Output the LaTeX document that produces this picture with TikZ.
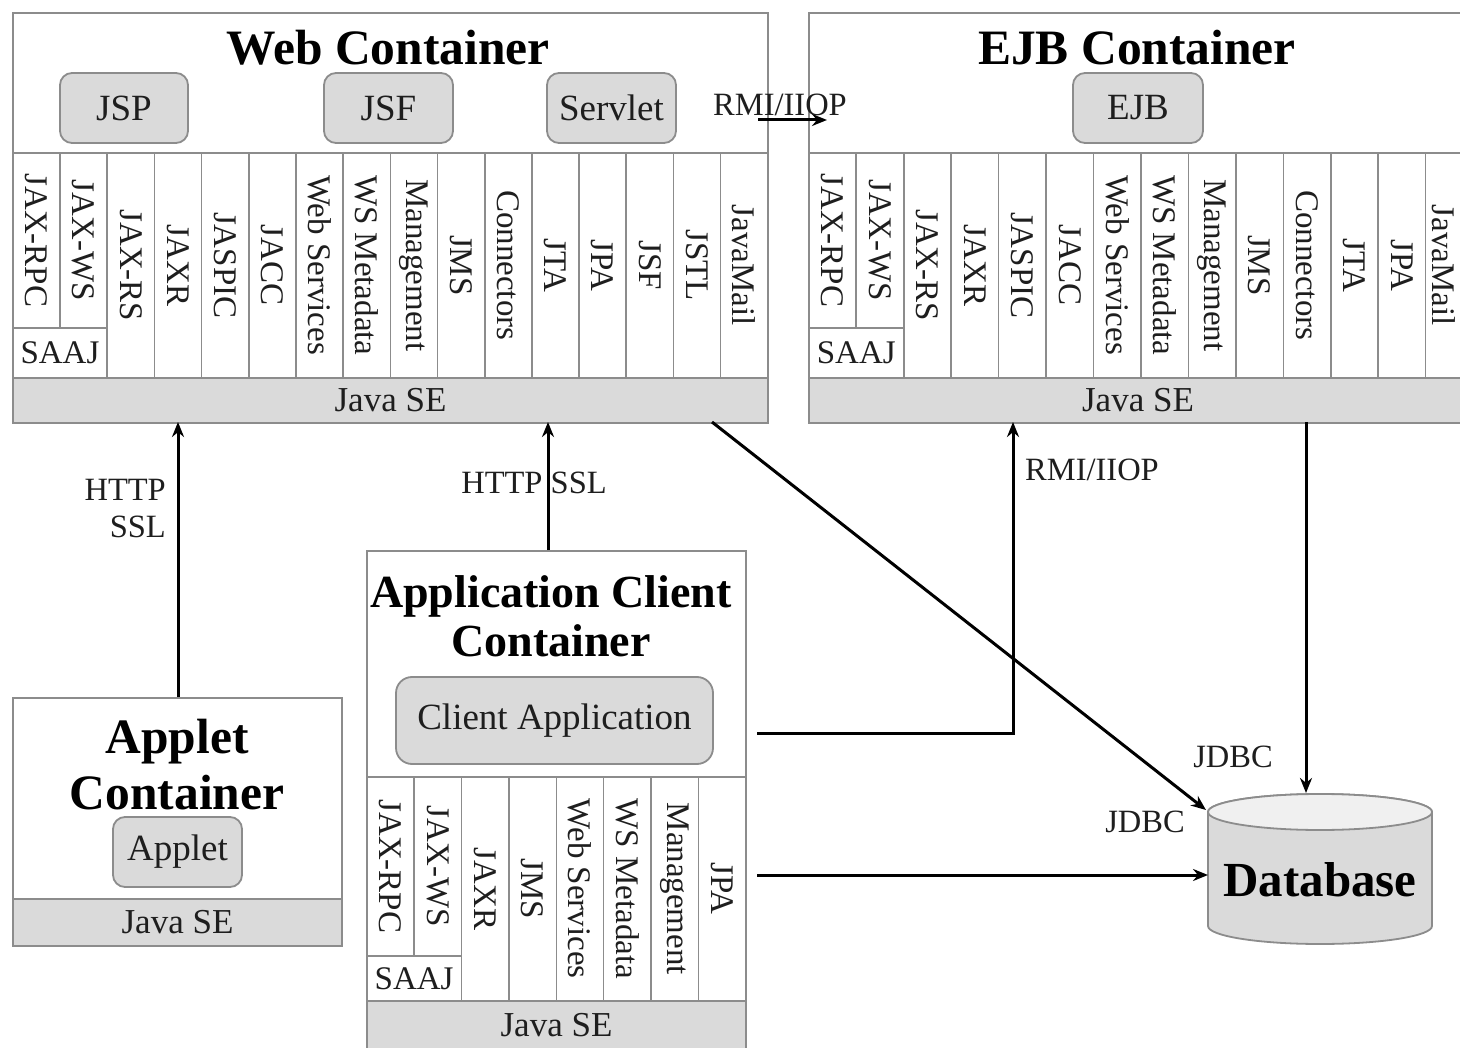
\documentclass[tikz,border=0pt]{standalone}
\usepackage{fontspec}
\setmainfont{Liberation Serif}
\usetikzlibrary{arrows.meta}
\definecolor{linegray}{HTML}{8C8C8C}
\definecolor{boxgray}{HTML}{DADADA}
\definecolor{txt}{HTML}{1E1E1E}
\tikzset{
  cont/.style={draw=linegray, line width=2pt, fill=white, inner sep=0, anchor=north west},
  sebar/.style={draw=linegray, line width=2pt, fill=boxgray, inner sep=0, anchor=north west},
  colcell/.style={draw=linegray, line width=1.6pt, inner sep=0, anchor=north west},
  collab/.style={rotate=-90, inner sep=0, text=txt, font=\fontsize{33}{36}\selectfont},
  saajlab/.style={inner sep=0, text=txt, font=\fontsize{33}{36}\selectfont},
  selab/.style={inner sep=0, text=txt, font=\fontsize{35}{38}\selectfont},
  comp/.style={draw=linegray, line width=1.8pt, fill=boxgray, rounded corners=12pt, inner sep=0, text=txt, font=\fontsize{37}{40}\selectfont},
  ttl/.style={inner sep=0, font=\fontsize{49.5}{56}\selectfont\bfseries, align=center},
  conn/.style={line width=3pt, black, -{Stealth[length=15pt,width=12pt]}},
  clab/.style={inner sep=0, text=txt, font=\fontsize{32.5}{37}\selectfont},
}
\newcommand\colrow[7]{%
  \foreach [count=\i] \lab in {#7} {
    \pgfmathsetmacro\xa{#2+(\i-1)*#3}
    \ifnum\i<3 \def\yb{#6}\else\def\yb{#5}\fi
    \pgfmathsetmacro\hh{\yb-#4}
    \node[colcell, minimum width=#3, minimum height=\hh] (#1\i) at (\xa,#4) {};
    \node[collab] (#1l\i) at (#1\i.center) {\lab};
  }
  \node[colcell, minimum width=2*#3, minimum height=#5-#6] (#1saaj) at (#2,#6) {};
  \node[saajlab] (#1saajl) at (#1saaj.center) {SAAJ};
}
\begin{document}
\begin{tikzpicture}[x=1pt, y=-1pt]
\useasboundingbox (0,0) rectangle (1460,1048);
\clip (0,0) rectangle (1460,1048);
\fill[white] (0,0) rectangle (1460,1048);

% ---------- Web Container ----------
\node[cont, minimum width=755, minimum height=410] (web) at (12,12) {};
\colrow{w}{12}{47.19}{152}{377}{327}{JAX-RPC,JAX-WS,JAX-RS,JAXR,JASPIC,JACC,Web Services,WS Metadata,Management,JMS,Connectors,JTA,JPA,JSF,JSTL,JavaMail}
\node[sebar, minimum width=755, minimum height=45] (webse) at (12,377) {};
\node[selab] (websel) at (webse.center) {Java SE};
\node[ttl] (webt) at (388,48) {Web Container};
\node[comp, minimum width=128, minimum height=70] (jsp) at (124,108) {JSP};
\node[comp, minimum width=129, minimum height=70] (jsf) at (388.5,108) {JSF};
\node[comp, minimum width=129, minimum height=70] (servlet) at (611.5,108) {Servlet};

% ---------- EJB Container (runs off the right edge) ----------
\node[cont, minimum width=654, minimum height=410] (ejb) at (808,12) {};
\colrow{e}{808}{47.45}{152}{377}{327}{JAX-RPC,JAX-WS,JAX-RS,JAXR,JASPIC,JACC,Web Services,WS Metadata,Management,JMS,Connectors,JTA,JPA}
\node[colcell, minimum width=37, minimum height=225] (e14) at (1424.85,152) {};
\node[collab] (el14) at (e14.center) {JavaMail};
\node[sebar, minimum width=654, minimum height=45] (ejbse) at (808,377) {};
\node[selab] (ejbsel) at (1138,400) {Java SE};
\node[ttl] (ejbt) at (1137,48) {EJB Container};
\node[comp, minimum width=130, minimum height=70] (ejbbox) at (1138,108) {EJB};

% ---------- Applet Container ----------
\node[cont, minimum width=329, minimum height=248] (applet) at (12,697) {};
\node[sebar, minimum width=329, minimum height=47] (appletse) at (12,898) {};
\node[selab] (appletsel) at (appletse.center) {Java SE};
\node[ttl] (appt) at (177,765) {Applet\\Container};
\node[comp, minimum width=129, minimum height=70] (appletbox) at (177.5,852) {Applet};

% ---------- Application Client Container ----------
\node[cont, minimum width=379, minimum height=498] (acc) at (366,550) {};
\colrow{c}{366}{47.375}{776}{1000}{955}{JAX-RPC,JAX-WS,JAXR,JMS,Web Services,WS Metadata,Management,JPA}
\node[sebar, minimum width=379, minimum height=48] (accse) at (366,1000) {};
\node[selab] (accsel) at (accse.center) {Java SE};
\node[ttl, font=\fontsize{46}{49}\selectfont\bfseries] (acct) at (551,616) {Application Client\\Container};
\node[comp, minimum width=317, minimum height=87, rounded corners=16pt] (capp) at (554.5,720.5) {Client Application};

% ---------- Database ----------
\path[draw=linegray, line width=1.8pt, fill=boxgray]
  (1208,812) -- (1208,926) arc(180:0:112 and 18) -- (1432,812) arc(0:-180:112 and 18) -- cycle;
\draw[draw=linegray, line width=1.8pt, fill=white!60!boxgray] (1320,812) ellipse (112 and 18);
\node[inner sep=0, font=\fontsize{49}{56}\selectfont\bfseries] (db) at (1320,880) {Database};

% ---------- Connector end points ----------
\coordinate (rmiA) at (758,120);
\coordinate (rmiB) at (827,120);
\coordinate (httpA) at (178,697);
\coordinate (httpB) at (178,422);
\coordinate (http2A) at (548,550);
\coordinate (http2B) at (548,422);
\coordinate (webdb) at (712,422);
\coordinate (dbtl) at (1206,810);
\coordinate (cappout) at (757,733);
\coordinate (ejbin) at (1013,422);
\coordinate (ejbout) at (1306,422);
\coordinate (dbtop) at (1306,793);
\coordinate (accout) at (757,875);
\coordinate (dbleft) at (1208,875);

% ---------- Connectors ----------
\node[clab] (lrmi1) at (780,105) {RMI/IIOP};
\draw[conn] (rmiA) -- (rmiB);
\draw[conn] (httpA) -- (httpB);
\draw[conn] (http2A) -- (http2B);
\draw[conn] (webdb) -- (dbtl);
\draw[conn] (cappout) -| (ejbin);
\draw[conn] (ejbout) -- (dbtop);
\draw[conn] (accout) -- (dbleft);

% ---------- Connector labels ----------
\node[clab, align=right, anchor=east] (lhttp) at (166,509) {HTTP\\SSL};
\node[clab] (lhttp2) at (534,483) {HTTP SSL};
\node[clab] (lrmi2) at (1092,470) {RMI/IIOP};
\node[clab] (ljdbc1) at (1233,757) {JDBC};
\node[clab] (ljdbc2) at (1145,822) {JDBC};
\end{tikzpicture}
\end{document}
